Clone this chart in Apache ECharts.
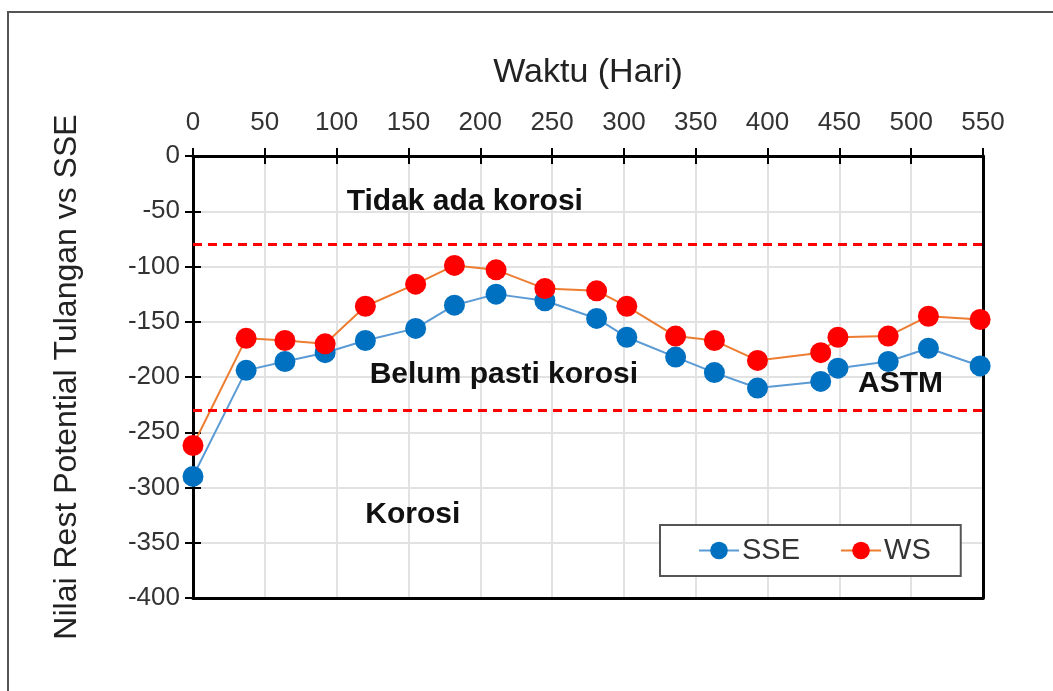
<!DOCTYPE html>
<html><head><meta charset="utf-8">
<script src="https://cdn.jsdelivr.net/npm/echarts@6/dist/echarts.min.js"></script>
<style>
html,body{margin:0;padding:0;background:#fff;}
#frame{position:absolute;left:7px;top:11px;width:1100px;height:700px;border-left:2px solid #555;border-top:2px solid #555;}
#c{position:absolute;left:0;top:0;width:1053px;height:691px;}
</style></head>
<body>
<div id="frame"></div>
<div id="c"></div>
<script>
const days = [0, 37, 64, 92, 120, 155, 182, 211, 245, 281, 302, 336, 363, 393, 437, 449, 484, 512, 548];
const sse = [-290, -194, -186, -178, -167, -156, -135, -125, -131, -147, -164, -182, -196, -210, -204, -192, -186, -174, -190];
const ws = [-262, -165, -167, -170, -136, -116, -99, -103, -120, -122, -136, -163, -167, -185, -178, -164, -163, -145, -148];
const astmLimits = [-80, -230];
const zoneLabels = [
  {text: 'Tidak ada korosi', x: 107, y: -41},
  {text: 'Belum pasti korosi', x: 123, y: -198},
  {text: 'ASTM', x: 463, y: -206},
  {text: 'Korosi', x: 120, y: -325}
];
const FONT = 'Liberation Sans, Arial, sans-serif';
const chart = echarts.init(document.getElementById('c'));
const pairs = a => days.map((d, i) => [d, a[i]]);
const axisLine = {onZero: false, lineStyle: {color: '#000', width: 3}};
chart.setOption({
  animation: false,
  grid: {left: 193, top: 156, right: 70, bottom: 93, show: false},
  xAxis: [{
    type: 'value', position: 'top', min: 0, max: 550, interval: 50,
    name: 'Waktu (Hari)', nameLocation: 'middle', nameGap: 66,
    nameTextStyle: {fontSize: 34, color: '#222', fontFamily: FONT},
    axisLine: axisLine,
    axisTick: {show: true, length: 8, lineStyle: {color: '#000', width: 2}},
    axisLabel: {fontSize: 26, color: '#333', fontFamily: FONT, margin: 20},
    splitLine: {show: true, lineStyle: {color: '#e2e2e2', width: 2}}
  }, {
    type: 'value', position: 'top', min: 0, max: 550, interval: 50,
    axisLine: {show: false, onZero: false},
    axisTick: {show: true, inside: true, length: 8, lineStyle: {color: '#000', width: 2}},
    axisLabel: {show: false}, splitLine: {show: false}
  }, {
    type: 'value', position: 'bottom', min: 0, max: 550, interval: 50,
    axisLine: axisLine, axisTick: {show: false}, axisLabel: {show: false}, splitLine: {show: false}
  }],
  yAxis: [{
    type: 'value', min: -400, max: 0, interval: 50,
    name: 'Nilai Rest Potential Tulangan vs SSE', nameLocation: 'middle', nameGap: 110,
    nameTextStyle: {fontSize: 32, color: '#222', fontFamily: FONT},
    axisLine: axisLine,
    axisTick: {show: true, length: 8, lineStyle: {color: '#000', width: 2}},
    axisLabel: {fontSize: 26, color: '#333', fontFamily: FONT, margin: 13},
    splitLine: {show: true, lineStyle: {color: '#e2e2e2', width: 2}}
  }, {
    type: 'value', min: -400, max: 0, interval: 50, position: 'left',
    axisLine: {show: false, onZero: false},
    axisTick: {show: true, inside: true, length: 8, lineStyle: {color: '#000', width: 2}},
    axisLabel: {show: false}, splitLine: {show: false}
  }, {
    type: 'value', min: -400, max: 0, interval: 50, position: 'right',
    axisLine: axisLine, axisTick: {show: false}, axisLabel: {show: false}, splitLine: {show: false}
  }],
  legend: {
    left: 660, top: 525, width: 305, height: 55,
    padding: [11, 30, 11, 38],
    borderColor: '#555', borderWidth: 2, backgroundColor: '#fff',
    itemWidth: 40, itemHeight: 22, itemGap: 40,
    textStyle: {fontSize: 29, color: '#333', fontFamily: FONT, padding: [0, 0, 0, -2]},
    data: ['SSE', 'WS']
  },
  series: [{
    name: 'SSE', type: 'line', data: pairs(sse),
    symbol: 'circle', symbolSize: 21,
    itemStyle: {color: '#0070C0'},
    lineStyle: {color: '#5B9BD5', width: 2},
    z: 3
  }, {
    name: 'WS', type: 'line', data: pairs(ws),
    symbol: 'circle', symbolSize: 21,
    itemStyle: {color: '#FF0000'},
    lineStyle: {color: '#ED7D31', width: 2},
    z: 4,
    markLine: {
      silent: true, symbol: 'none', label: {show: false},
      lineStyle: {color: '#FF0000', type: [9, 6], width: 3},
      data: astmLimits.map(v => ({yAxis: v}))
    }
  }]
});
chart.setOption({
  graphic: zoneLabels.map(z => {
    const p = chart.convertToPixel({xAxisIndex: 0, yAxisIndex: 0}, [z.x, z.y]);
    return {type: 'text', x: p[0], y: p[1], style: {text: z.text, font: 'bold 30px ' + FONT, fill: '#111', align: 'left', verticalAlign: 'middle'}, z: 10};
  })
});
</script>
</body></html>
